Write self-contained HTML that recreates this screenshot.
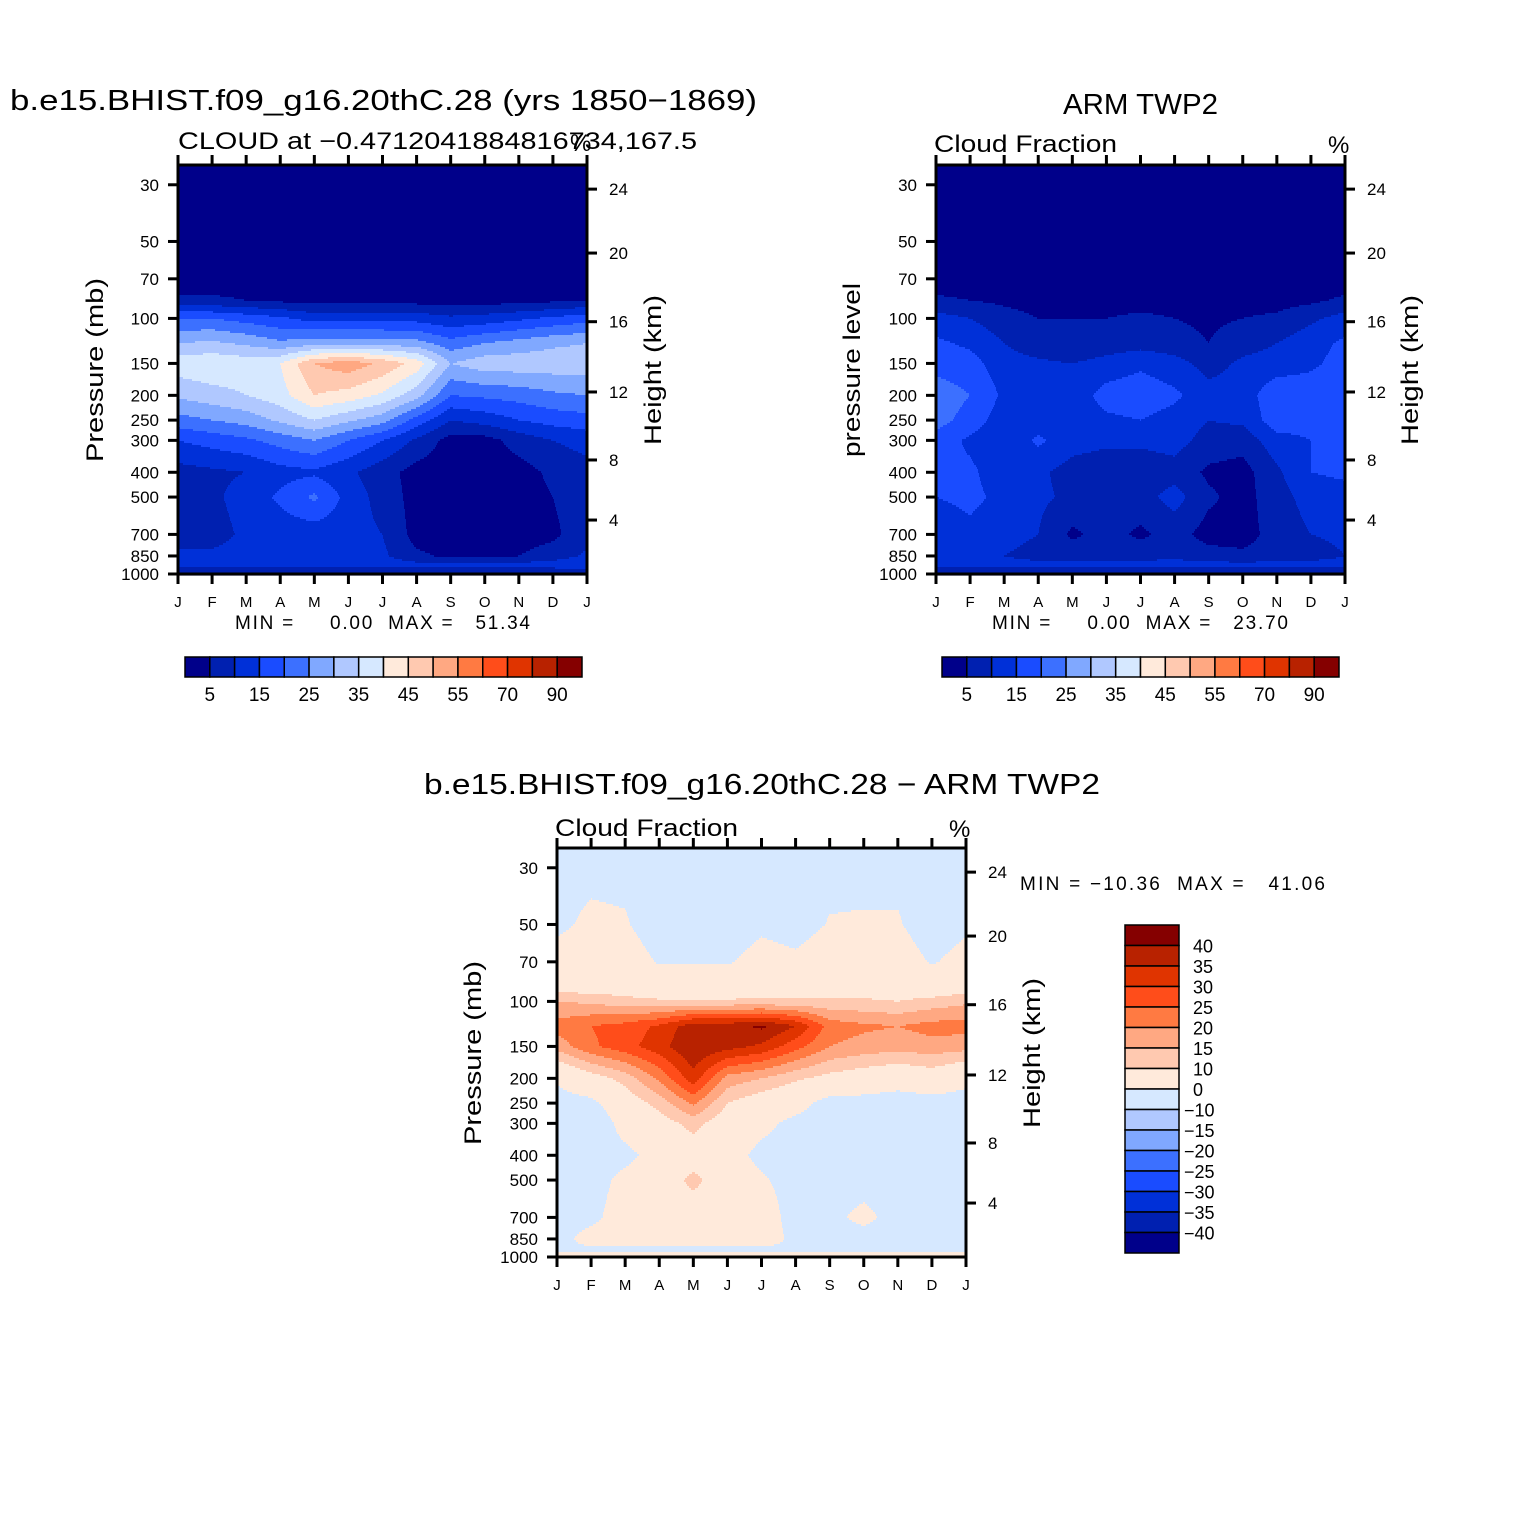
<!DOCTYPE html>
<html><head><meta charset="utf-8">
<style>
html,body{margin:0;padding:0;background:#fff;}
svg{display:block;}
text{font-family:"Liberation Sans",sans-serif;fill:#000;}
</style></head>
<body>
<svg id="root" width="1524" height="1524" viewBox="0 0 1524 1524" xmlns="http://www.w3.org/2000/svg">
<rect width="1524" height="1524" fill="#fff"/>
<text x="10" y="110" font-size="29" textLength="747" lengthAdjust="spacingAndGlyphs">b.e15.BHIST.f09_g16.20thC.28 (yrs 1850−1869)</text>
<text x="178" y="149" font-size="24" textLength="519" lengthAdjust="spacingAndGlyphs">CLOUD at −0.4712041884816734,167.5</text>
<text x="570" y="151" font-size="24">%</text>
<text x="1063" y="114" font-size="29" textLength="155" lengthAdjust="spacingAndGlyphs">ARM TWP2</text>
<text x="934" y="152" font-size="24" textLength="183" lengthAdjust="spacingAndGlyphs">Cloud Fraction</text>
<text x="1328" y="153" font-size="24">%</text>
<text x="424" y="794" font-size="29" textLength="676" lengthAdjust="spacingAndGlyphs">b.e15.BHIST.f09_g16.20thC.28 − ARM TWP2</text>
<text x="555" y="836" font-size="24" textLength="183" lengthAdjust="spacingAndGlyphs">Cloud Fraction</text>
<text x="949" y="837" font-size="24">%</text>
<text x="103" y="370" font-size="24" text-anchor="middle" textLength="184" lengthAdjust="spacingAndGlyphs" transform="rotate(-90 103 370)">Pressure (mb)</text>
<text x="860" y="370" font-size="24" text-anchor="middle" textLength="174" lengthAdjust="spacingAndGlyphs" transform="rotate(-90 860 370)">pressure level</text>
<text x="481" y="1053" font-size="24" text-anchor="middle" textLength="184" lengthAdjust="spacingAndGlyphs" transform="rotate(-90 481 1053)">Pressure (mb)</text>
<text x="661" y="370" font-size="24" text-anchor="middle" textLength="150" lengthAdjust="spacingAndGlyphs" transform="rotate(-90 661 370)">Height (km)</text>
<text x="1418" y="370" font-size="24" text-anchor="middle" textLength="150" lengthAdjust="spacingAndGlyphs" transform="rotate(-90 1418 370)">Height (km)</text>
<text x="1040" y="1053" font-size="24" text-anchor="middle" textLength="150" lengthAdjust="spacingAndGlyphs" transform="rotate(-90 1040 1053)">Height (km)</text>
<text x="235" y="629" font-size="19" textLength="295" lengthAdjust="spacing" xml:space="preserve">MIN =     0.00  MAX =   51.34</text>
<text x="992" y="629" font-size="19" textLength="296" lengthAdjust="spacing" xml:space="preserve">MIN =     0.00  MAX =   23.70</text>
<text x="1020" y="890" font-size="19" textLength="305" lengthAdjust="spacing" xml:space="preserve">MIN = −10.36  MAX =   41.06</text>
</svg>
<script>
const months = ["J","F","M","A","M","J","J","A","S","O","N","D","J"];
const pLevels = [25,70,85,100,125,150,200,250,300,400,500,700,850,925,1000];
const modelValues = [
[1,1,1,1,1,1,1,1,1,1,1,1,1],
[2,2,2,2,2,2,2,2,2,2,2,2,2],
[6,6,5,4,3,3,3,3,3,3,3,4,5],
[20,20,18,16,13,13,13,13,11,12,14,16,18],
[30,31,29,26,28,28,28,27,22,25,27,29,30],
[38,39,38,40,50,53,49,43,30,33,33,33,33],
[31,33,35,38,45,43,39,32,20,21,22,24,25],
[23,25,27,31,35,31,27,18,10,12,15,17,18],
[15,17,19,22,25,20,15,9,3,3,7,10,12],
[8,9,10,13,14,11,7,3,2,2,3,6,8],
[8,9,12,16,21,13,8,3,2,2,3,5,8],
[8,8,11,12,12,12,10,3,2,2,3,4,8],
[11,11,12,12,12,12,11,6,4,4,5,7,11],
[13,13,13,13,13,13,13,12,12,12,12,13,15],
[3,3,3,3,3,3,3,3,3,3,3,3,3]];
const obsValues = [
[1,1,1,1,1,1,1,1,1,1,1,1,1],
[2,2,2,2,2,2,2,2,2,2,2,2,2],
[6,5,4,3,3,3,3,3,2,3,3,4,6],
[12,10,7,5,5,5,6,5,4,5,6,9,12],
[16,14,10,7,5,7,8,7,5,8,10,13,16],
[18,17,12,11,10,12,14,12,8,11,12,14,17],
[23,20,14,13,12,17,18,16,12,12,19,18,20],
[22,18,12,12,12,14,15,13,10,11,18,17,19],
[18,14,11,16,12,11,11,12,8,7,13,15,18],
[15,16,12,11,8,7,7,8,4,3,9,15,16],
[15,16,14,11,9,7,8,12,6,3,8,12,13],
[12,14,12,10,4,7,4,7,3,3,7,10,11],
[11,11,10,8,8,8,8,9,7,6,7,8,10],
[12,12,12,12,12,12,12,12,12,12,12,12,12],
[3,3,3,3,3,3,3,3,3,3,3,3,3]];
const diffLevels = [25,50,70,85,100,125,150,200,250,300,400,500,700,850,925,1000];
const diffValues = [
[-2,-2,-2,-2,-2,-2,-2,-2,-2,-2,-2,-2,-2],
[-1,1,0.5,-3,-3,-3,-1,-2,0.3,0.5,0.5,-3,-1],
[2,3,3,-0.5,-0.5,-0.5,2,1,3,3,3,-0.5,2],
[5,5,5,3,3,3,5,5,5,5,5,3,5],
[15,14,12,11,11,11,11,11,11,11,10,12,14],
[22,25,27,31,38,38,41,35,23,21,20,22,22],
[17,24,28,33,40,37,34,27,20,18,17,18,17],
[1,7,12,21,33,18,15,11,8,6,4,6,2],
[-3,-2,6,12,21,10,6,3,-3,-3,-4,-3,-3],
[-3,-6,3,7,12,6,2,-2,-3,-3,-3,-3,-3],
[-3,-3,-2,3,6,3,-2,-3,-3,-2,-3,-3,-3],
[-3,-3,2,5,12,5,1,-3,-3,-3,-3,-3,-3],
[-3,-2,4,5,5,5,4,-3,-2,2,-3,-3,-3],
[-3,3,4,4,4,4,4,-2,-3,-3,-3,-3,-3],
[-1,-1,-1,-1,-1,-1,-1,-1,-1,-1,-1,-1,-1],
[2,2,2,2,2,2,2,2,2,2,2,2,2]];
const cloudBounds = [5,10,15,20,25,30,35,40,45,50,55,60,70,80,90];
const cloudLabels = ["5","15","25","35","45","55","70","90"];
const diffBounds = [-40,-35,-30,-25,-20,-15,-10,0,10,15,20,25,30,35,40];
const diffLabels = ["40","35","30","25","20","15","10","0","−10","−15","−20","−25","−30","−35","−40"];
const palette = ["#00008a","#0020b0","#0030d8","#1a4cff","#3c70ff","#80a8ff","#b0c8ff","#d6e8ff","#ffeadb","#ffc9b0","#ffa882","#ff7a42","#ff4d1a","#e03400","#b82200","#850000"];
const pTickLabels = [30,50,70,100,150,200,250,300,400,500,700,850,1000];
const heightTicks = [4,8,12,16,20,24];
const heightTickP = [615,358,194,103,55.5,31.2];

const NS = "http://www.w3.org/2000/svg";
const root = document.getElementById("root");
const W = 409, H = 409, K = 111;
function mk(tag, attrs, parent){const e=document.createElementNS(NS,tag);for(const k in attrs)e.setAttribute(k,attrs[k]);(parent||root).appendChild(e);return e;}
function colorIdx(v,b){let i=0;while(i<b.length&&v>=b[i])i++;return i;}

function drawPanel(name, ox, oy, levels, vals, bounds){
  const g = mk("g",{});
  
  
  const yOfP = p => oy + H - K*Math.log(1000/p);
  const xOfM = m => ox + m*W/12;
  const ly = levels.map(yOfP);
  const val = (x,y) => {
    let fm = (x-ox)/(W/12); fm=Math.max(0,Math.min(12,fm));
    let m0 = Math.min(11,Math.floor(fm)), tm = fm-m0;
    let r=0; while(r<ly.length-2 && y>ly[r+1]) r++;
    let ty = (y-ly[r])/(ly[r+1]-ly[r]); ty=Math.max(0,Math.min(1,ty));
    const a=vals[r][m0]*(1-tm)+vals[r][m0+1]*tm;
    const b=vals[r+1][m0]*(1-tm)+vals[r+1][m0+1]*tm;
    return a*(1-ty)+b*ty;
  };
  const step=2;
  for(let y=oy;y<oy+H;y+=step){
    let start=ox, cur=colorIdx(val(ox+0.5,y+1),bounds);
    for(let x=ox+1;x<=ox+W;x++){
      const c = x<ox+W ? colorIdx(val(x+0.5,y+1),bounds) : -1;
      if(c!==cur){
        const r=mk("rect",{x:start,y:y,width:x-start+0.6,height:step+0.6,fill:palette[cur]},g);
        
        
        start=x; cur=c;
      }
    }
  }
  const fr = mk("rect",{x:ox,y:oy,width:W,height:H,fill:"none",stroke:"#000","stroke-width":3});
  
  
  months.forEach((m,i)=>{
    const x=xOfM(i);
    mk("line",{x1:x,x2:x,y1:oy-10,y2:oy,stroke:"#000","stroke-width":3});
    mk("line",{x1:x,x2:x,y1:oy+H,y2:oy+H+10,stroke:"#000","stroke-width":3});
    const t=mk("text",{x:x,y:oy+H+33,"font-size":15,"text-anchor":"middle"});
    t.textContent=m;
    
    
  });
  pTickLabels.forEach(p=>{
    const y=yOfP(p);
    mk("line",{x1:ox-10,x2:ox,y1:y,y2:y,stroke:"#000","stroke-width":3});
    const t=mk("text",{x:ox-19,y:y+6,"font-size":17,"text-anchor":"end"});
    t.textContent=p;
    
    
  });
  heightTicks.forEach((h,i)=>{
    const y=yOfP(heightTickP[i]);
    mk("line",{x1:ox+W,x2:ox+W+10,y1:y,y2:y,stroke:"#000","stroke-width":3});
    const t=mk("text",{x:ox+W+22,y:y+6,"font-size":17});
    t.textContent=h;
    
    
  });
}
function hColorbar(name,x0,y0){
  const bw=397/16;
  palette.forEach((c,i)=>{
    const r=mk("rect",{x:x0+i*bw,y:y0,width:bw,height:20,fill:c,stroke:"#000","stroke-width":1.5});
    
    
  });
  cloudLabels.forEach((l,i)=>{
    const t=mk("text",{x:x0+(2*i+1)*bw,y:y0+44,"font-size":19,"text-anchor":"middle"});
    t.textContent=l;
    
    
  });
}
drawPanel("panel1",178,165,pLevels,modelValues,cloudBounds);
drawPanel("panel2",936,165,pLevels,obsValues,cloudBounds);
drawPanel("panel3",557,848,diffLevels,diffValues,diffBounds);
hColorbar("panel1-colorbar",185,657);
hColorbar("panel2-colorbar",942,657);
(function(){
  const x0=1125,y0=925,bh=328/16;
  for(let i=0;i<16;i++){
    const r=mk("rect",{x:x0,y:y0+i*bh,width:54,height:bh,fill:palette[15-i],stroke:"#000","stroke-width":1.5});
    
    
  }
  diffLabels.forEach((l,i)=>{
    const t=mk("text",{x:l.startsWith("−")?1184:1193,y:y0+(i+1)*bh+7,"font-size":18});
    t.textContent=l;
    
    
  });
})();
</script>
</body></html>
